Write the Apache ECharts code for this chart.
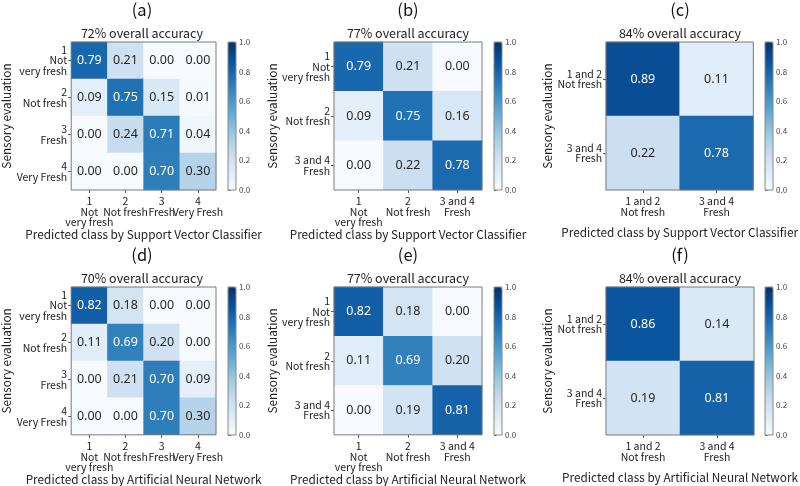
<!DOCTYPE html>
<html>
<head>
<meta charset="utf-8">
<script src="https://cdn.jsdelivr.net/npm/echarts@6/dist/echarts.min.js"></script>
<style>
  html, body { margin: 0; padding: 0; background: #fff; }
  #chart { width: 800px; height: 486px; }
</style>
</head>
<body>
<div id="chart"></div>
<script>
var fourClasses = ['1\nNot\nvery fresh', '2\nNot fresh', '3\nFresh', '4\nVery Fresh'];
var threeClasses = ['1\nNot\nvery fresh', '2\nNot fresh', '3 and 4\nFresh'];
var twoClasses = ['1 and 2\nNot fresh', '3 and 4\nFresh'];

var svc4 = [
    [0.79, 0.21, 0.00, 0.00],
    [0.09, 0.75, 0.15, 0.01],
    [0.00, 0.24, 0.71, 0.04],
    [0.00, 0.00, 0.70, 0.30]
];
var svc3 = [
    [0.79, 0.21, 0.00],
    [0.09, 0.75, 0.16],
    [0.00, 0.22, 0.78]
];
var svc2 = [
    [0.89, 0.11],
    [0.22, 0.78]
];
var ann4 = [
    [0.82, 0.18, 0.00, 0.00],
    [0.11, 0.69, 0.20, 0.00],
    [0.00, 0.21, 0.70, 0.09],
    [0.00, 0.00, 0.70, 0.30]
];
var ann3 = [
    [0.82, 0.18, 0.00],
    [0.11, 0.69, 0.20],
    [0.00, 0.19, 0.81]
];
var ann2 = [
    [0.86, 0.14],
    [0.19, 0.81]
];

var panelLetters = ['(a)', '(b)', '(c)', '(d)', '(e)', '(f)'];
var accuracies = ['72% overall accuracy', '77% overall accuracy', '84% overall accuracy',
                  '70% overall accuracy', '77% overall accuracy', '84% overall accuracy'];
var xNames = ['Predicted class by Support Vector Classifier', 'Predicted class by Artificial Neural Network'];
var colorbarTicks = [0, 0.2, 0.4, 0.6, 0.8, 1.0];

var matrices = [svc4, svc3, svc2, ann4, ann3, ann2];
var classLists = [fourClasses, threeClasses, twoClasses, fourClasses, threeClasses, twoClasses];

// matplotlib "Blues"
var blues = ['#f7fbff', '#deebf7', '#c6dbef', '#9ecae1', '#6baed6', '#4292c6', '#2171b5', '#08519c', '#08306b'];

var FONT = '"Noto Sans CJK JP", "Noto Sans", sans-serif';
var boxLeft = [68, 334, 606];
var boxTop = [42, 287];
var boxSize = 148;
var cbLeft = [228, 494, 765];
var yNameGap = [54, 46, 42];

var grid = [], xAxis = [], yAxis = [], series = [], visualMap = [], title = [];

matrices.forEach(function(mat, p) {
    var col = p % 3, row = Math.floor(p / 3);
    var left = boxLeft[col], top = boxTop[row];
    var cats = classLists[p];

    title.push({
        text: panelLetters[p], left: left + boxSize / 2, top: top - 41, textAlign: 'center', padding: 0,
        textStyle: { fontFamily: FONT, fontSize: 16.5, fontWeight: 'normal', color: '#111' }
    });
    title.push({
        text: accuracies[p], left: left + boxSize / 2, top: top - 15, textAlign: 'center', padding: 0,
        textStyle: { fontFamily: FONT, fontSize: 12.5, fontWeight: 'normal', color: '#222' }
    });

    // heatmap grid
    grid.push({
        left: left, top: top, width: boxSize, height: boxSize,
        show: true, z: 5, backgroundColor: 'transparent', borderColor: '#7a7a7a', borderWidth: 1
    });
    var gi = grid.length - 1;
    xAxis.push({
        type: 'category', gridIndex: gi, data: cats, position: 'bottom',
        name: xNames[row], nameLocation: 'middle', nameGap: 37,
        nameTextStyle: { fontFamily: FONT, fontSize: 11.8, color: '#222' },
        axisLine: { show: false },
        axisTick: { show: true, alignWithLabel: true, length: 3, lineStyle: { color: '#555' } },
        axisLabel: { fontFamily: FONT, fontSize: 10.5, color: '#222', lineHeight: 10.5, margin: 6, interval: 0 },
        splitLine: { show: false }
    });
    yAxis.push({
        type: 'category', gridIndex: gi, data: cats, inverse: true,
        name: 'Sensory evaluation', nameLocation: 'middle', nameGap: yNameGap[col],
        nameTextStyle: { fontFamily: FONT, fontSize: 11.8, color: '#222' },
        axisLine: { show: false },
        axisTick: { show: true, alignWithLabel: true, length: 3, lineStyle: { color: '#555' } },
        axisLabel: { fontFamily: FONT, fontSize: 10.5, color: '#222', lineHeight: 10.5, margin: 4, interval: 0, align: 'right' },
        splitLine: { show: false }
    });

    var data = [];
    mat.forEach(function(r, i) {
        r.forEach(function(v, j) {
            data.push({ value: [j, i, v], label: { color: v > 0.5 ? '#ffffff' : '#262626' } });
        });
    });
    series.push({
        type: 'heatmap', xAxisIndex: gi, yAxisIndex: gi, data: data,
        label: {
            show: true, fontFamily: '"Noto Sans", sans-serif', fontSize: 12.5,
            formatter: function(prm) { return prm.value[2].toFixed(2); }
        },
        emphasis: { disabled: true }
    });
    var si = series.length - 1;

    // colorbar
    visualMap.push({
        type: 'continuous', seriesIndex: si, min: 0, max: 1, orient: 'vertical',
        left: cbLeft[col], top: top, itemWidth: 8, itemHeight: boxSize, padding: 0,
        calculable: false, hoverLink: false, inRange: { color: blues }
    });
    grid.push({
        left: cbLeft[col], top: top, width: 8, height: boxSize,
        show: true, z: 5, backgroundColor: 'transparent', borderColor: '#888', borderWidth: 1
    });
    var ci = grid.length - 1;
    xAxis.push({ type: 'value', gridIndex: ci, min: 0, max: 1, show: false });
    yAxis.push({
        type: 'value', gridIndex: ci, min: 0, max: 1, interval: 0.2, position: 'right',
        axisLine: { show: false },
        axisTick: { show: true, length: 2.5, lineStyle: { color: '#555' } },
        axisLabel: {
            fontFamily: FONT, fontSize: 8, color: '#444', margin: 3,
            formatter: function(v) { return colorbarTicks.indexOf(Math.round(v * 10) / 10) >= 0 ? v.toFixed(1) : ''; }
        },
        splitLine: { show: false }
    });
});

var chart = echarts.init(document.getElementById('chart'), null, { renderer: 'canvas' });
chart.setOption({
    animation: false,
    backgroundColor: '#ffffff',
    title: title,
    grid: grid,
    xAxis: xAxis,
    yAxis: yAxis,
    visualMap: visualMap,
    series: series
});
</script>
</body>
</html>
